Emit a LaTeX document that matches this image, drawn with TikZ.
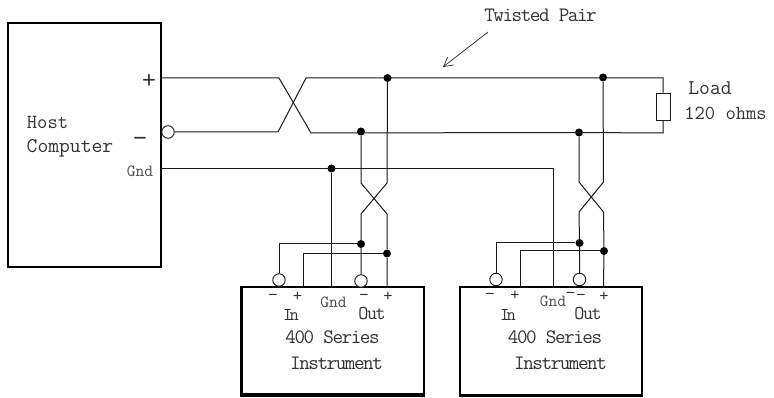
\documentclass[tikz,border=0pt]{standalone}
\usepackage{fontspec}
\setmonofont{Latin Modern Mono}
\usetikzlibrary{arrows.meta}
\newcommand{\fs}[1]{\ttfamily\fontsize{#1}{#1}\selectfont}
\newcommand{\fsc}[2]{\ttfamily\fontsize{#1}{#1}\selectfont\addfontfeature{LetterSpace=#2}}
\tikzset{
  wire/.style={draw=black!90,line width=1pt,line join=miter},
  boxline/.style={draw=black,line width=1.7pt},
  heavy/.style={draw=black,line width=2.8pt},
  jct/.style={circle,fill=black,inner sep=0pt,minimum size=8pt},
  opencirc/.style={circle,draw=black!90,fill=white,line width=0.9pt,inner sep=0pt,minimum size=12.5pt},
  lab/.style={inner sep=0pt,text=black!80,font=\fs{20}},
  labc/.style={inner sep=0pt,text=black!80,font=\fsc{20.5}{-7}},
  labio/.style={inner sep=0pt,text=black!80,font=\fsc{18}{-16}},
  labo/.style={inner sep=0pt,text=black!80,font=\fsc{19.5}{-7}},
  labs/.style={inner sep=0pt,text=black!70,font=\fs{17}},
  sign/.style={inner sep=0pt,text=black!80,font=\fs{18}},
}
\begin{document}
\begin{tikzpicture}[x=1pt,y=-1pt]
\useasboundingbox (0,0) rectangle (774,398);
% boxes
\node[boxline,minimum width=153pt,minimum height=244pt,inner sep=0pt] (host) at (84.5,145) {};
\node[boxline,minimum width=182pt,minimum height=107.5pt,inner sep=0pt] (instA) at (333,340.5) {};
\node[boxline,minimum width=182pt,minimum height=108pt,inner sep=0pt] (instB) at (551,341) {};
\draw[heavy] (instA.north west) -- (instA.south west) -- (instA.south east);
\draw[heavy] (instB.south west) -- (instB.south east);
% key points
\coordinate (hp) at (161,78);
\coordinate (hn) at (174.5,132);
\coordinate (hg) at (161,168.5);
\coordinate (t1a) at (279,78);  \coordinate (t1b) at (311,133);
\coordinate (t2a) at (278,132); \coordinate (t2b) at (306,78);
\coordinate (endp) at (663,78); \coordinate (endn) at (663,133);
\coordinate (gndc) at (553,168.5);
% load
\node[draw=black!90,line width=1pt,fill=white,minimum width=14pt,minimum height=27.5pt,inner sep=0pt] (load) at (663,107) {};
% junctions
\node[jct] (j1) at (387.5,78) {};
\node[jct] (j2) at (361,131.5) {};
\node[jct] (j3) at (331.5,168.5) {};
\node[jct] (j4) at (603,77.5) {};
\node[jct] (j5) at (579,132.5) {};
\node[jct] (j6) at (361,244) {};
\node[jct] (j7) at (387,253.5) {};
\node[jct] (j8) at (579.5,243) {};
\node[jct] (j9) at (604,251) {};
% open circles
\node[opencirc] (oh) at (168,132) {};
\node[opencirc] (oa1) at (279,280) {};
\node[opencirc] (oa2) at (361,281) {};
\node[opencirc] (ob1) at (496,279.5) {};
\node[opencirc] (ob2) at (579.5,279.5) {};
% host wires
\draw[wire] (hp) -- (t1a) -- (t1b) -- (j5.center) -- (endn) -- (load.south);
\draw[wire] (oh) -- (t2a) -- (t2b) -- (j1.center) -- (endp) -- (load.north);
\draw[wire] (hg) -- (gndc) -- (gndc |- instB.north);
\draw[wire] (j3) -- (j3 |- instA.north);
% instrument A twist
\draw[wire] (j2) -- (361,183) -- (387,214) -- (j7) -- (387,286);
\draw[wire] (j1) -- (387,183) -- (361,214) -- (j6) -- (oa2);
\draw[wire] (oa1) |- (j6);
\draw[wire] (j7) -| (303.5,286);
% instrument B twist
\draw[wire] (j5) -- (579,182) -- (603.5,212) -- (j9) -- (603.5,287);
\draw[wire] (j4) -- (603.5,182) -- (579,212) -- (j8) -- (ob2);
\draw[wire] (ob1) |- (j8);
\draw[wire] (j9) -| (520,287);
% twisted pair label
\node[labc] (tp) at (540.5,15) {Twisted Pair};
\coordinate (tpS) at (488,32);
\coordinate (tpE) at (443,67);
\draw[draw=black!85,line width=0.7pt,-{Straight Barb[length=9pt,width=10pt]}] (tpS) -- (tpE);
% host labels
\node[sign,font=\fs{27}] (hplus) at (149,81) {+};
\node[sign,font=\fs{27}] (hminus) at (140,142) {−};
\node[labs] (hgnd) at (140,171) {Gnd};
\node[lab] (hhost) at (47.5,122) {Host};
\node[lab,font=\fs{21}] (hcomp) at (70,148) {Computer};
\node[lab,font=\fs{21}] (loadl) at (710,88) {Load};
\node[lab] (ohm) at (725.5,113) {120 ohms};
% instrument A labels
\node[sign] at (273,297) {−};
\node[sign] at (297.5,296.5) {+};
\node[labs] at (333.5,302) {Gnd};
\node[sign] at (364,297) {−};
\node[sign] at (388,296.5) {+};
\node[labio] at (291,315) {In};
\node[labo] at (372,314) {Out};
\node[labc] at (332.5,337) {400 Series};
\node[labc] at (336.5,363) {Instrument};
% instrument B labels
\node[sign] at (490,296.5) {−};
\node[sign] at (515,296) {+};
\node[labs] at (553,301) {Gnd};
\node[sign] at (570.5,295) {−};
\node[sign] at (581,297) {−};
\node[sign] at (604,297) {+};
\node[labio] at (508,315) {In};
\node[labo] at (588,314) {Out};
\node[labc] at (555,337) {400 Series};
\node[labc] at (560.5,363) {Instrument};
\end{tikzpicture}
\end{document}
